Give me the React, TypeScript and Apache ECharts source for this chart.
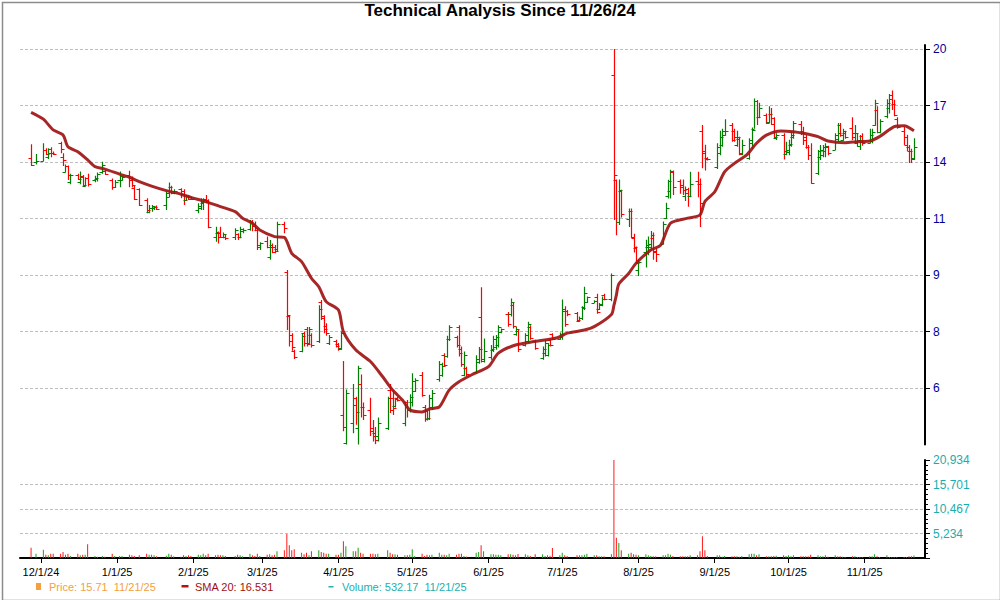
import React, { useEffect, useRef } from 'react';
import * as echarts from 'echarts';

const TITLE = 'Technical Analysis Since 11/26/24';
const FIRST_CATEGORY = '2024-11-23';
const LAST_CATEGORY = '2025-11-25';
const FIRST_TRADE = '2024-11-27';
const HOLIDAYS = ['2024-11-28', '2024-12-25', '2025-01-01', '2025-01-09', '2025-01-20', '2025-02-17',
  '2025-04-18', '2025-05-26', '2025-06-19', '2025-07-04', '2025-09-01'];

// rows: [open, high, low, close, volume] per trading day
const nov2024 = [
  [13.85, 14.52, 13.5, 13.53, 2210], [13.68, 14.05, 13.57, 13.71, 930],
];
const dec2024 = [
  [13.75, 14.57, 13.72, 14.25, 1780], [14.25, 14.33, 14.01, 14.04, 710], [13.93, 14.33, 13.82, 14.09, 570],
  [14.3, 14.38, 13.9, 14.09, 930], [14.12, 14.17, 14.01, 14.06, 930], [14.57, 14.65, 14.09, 14.28, 925],
  [13.93, 14.09, 13.5, 13.77, 1280], [13.25, 13.57, 13.21, 13.52, 712], [13.5, 13.52, 12.88, 13.1, 925],
  [12.81, 13.15, 12.7, 13.1, 427], [13.1, 13.15, 12.88, 12.91, 925], [12.81, 13.25, 12.7, 13.03, 570],
  [13.06, 13.1, 12.6, 12.67, 712], [12.63, 13.0, 12.6, 12.95, 712], [12.95, 13.15, 12.6, 12.7, 2920],
  [12.88, 13.06, 12.78, 12.96, 427], [12.91, 13.21, 12.81, 13.15, 285], [13.21, 13.69, 13.15, 13.55, 427],
  [13.29, 13.32, 13.1, 13.15, 285], [12.88, 12.95, 12.46, 12.57, 925], [12.57, 12.88, 12.54, 12.81, 427],
];
const jan2025 = [
  [12.88, 13.25, 12.57, 13.06, 427], [12.88, 13.06, 12.85, 13.0, 427], [13.1, 13.29, 12.57, 12.88, 712],
  [12.95, 13.03, 12.57, 12.67, 570], [12.53, 12.63, 12.04, 12.07, 427], [12.49, 12.53, 11.8, 11.84, 570],
  [12.04, 12.11, 11.52, 11.65, 925], [11.58, 11.84, 11.52, 11.71, 712], [11.71, 11.84, 11.58, 11.8, 712],
  [11.72, 11.8, 11.65, 11.77, 570], [11.78, 11.82, 11.65, 11.7, 356], [11.84, 12.39, 11.65, 12.18, 500],
  [12.32, 12.77, 12.15, 12.57, 925], [12.57, 12.63, 12.28, 12.43, 712], [12.32, 12.49, 12.28, 12.43, 356],
  [12.49, 12.53, 12.11, 12.28, 285], [12.43, 12.49, 11.84, 12.04, 570], [12.04, 12.25, 12.04, 12.21, 427],
  [12.21, 12.25, 12.04, 12.07, 570], [12.15, 12.18, 12.04, 12.07, 427],
];
const feb2025 = [
  [11.65, 11.91, 11.52, 11.8, 712], [11.71, 12.11, 11.65, 11.97, 570], [11.91, 12.11, 11.65, 12.04, 925],
  [12.07, 12.25, 11.91, 11.97, 570], [12.04, 12.07, 10.95, 10.99, 925], [10.65, 11.01, 10.47, 10.83, 570],
  [10.79, 10.83, 10.41, 10.62, 712], [10.77, 11.01, 10.62, 10.65, 570], [10.62, 10.8, 10.59, 10.74, 570],
  [10.65, 10.74, 10.53, 10.6, 427], [10.62, 10.95, 10.53, 10.89, 427], [10.74, 10.77, 10.53, 10.62, 712],
  [10.65, 11.01, 10.59, 10.91, 570], [10.85, 10.95, 10.77, 10.89, 356], [10.91, 11.26, 10.86, 11.2, 925],
  [11.2, 11.26, 10.84, 11.05, 570], [11.1, 11.2, 10.84, 10.95, 427], [10.89, 10.95, 10.18, 10.35, 925],
  [10.29, 10.45, 10.18, 10.41, 427],
];
const mar2025 = [
  [10.5, 10.65, 10.24, 10.3, 712], [9.95, 10.53, 9.85, 10.3, 783], [10.35, 10.41, 10.07, 10.12, 570],
  [10.3, 10.35, 10.07, 10.15, 712], [10.2, 11.19, 10.12, 11.11, 1424], [11.1, 11.19, 10.77, 10.95, 1640],
  [9.47, 9.52, 7.78, 8.18, 5150], [8.15, 8.18, 7.36, 7.5, 2700], [7.65, 7.7, 7.26, 7.35, 1640],
  [7.25, 7.28, 7.06, 7.1, 1850], [7.25, 7.7, 7.22, 7.62, 1140], [7.7, 7.74, 7.36, 7.45, 783],
  [7.8, 7.86, 7.36, 7.42, 1140], [7.45, 7.86, 7.4, 7.8, 570], [7.65, 7.7, 7.34, 7.4, 1424],
  [7.5, 8.46, 7.45, 8.35, 1640], [8.55, 8.61, 8.05, 8.1, 1282], [8.15, 8.18, 7.7, 7.8, 1139],
  [7.9, 7.96, 7.63, 7.7, 925], [7.45, 7.65, 7.4, 7.6, 925], [7.5, 7.53, 7.34, 7.38, 712],
];
const apr2025 = [
  [7.42, 7.45, 7.26, 7.3, 712], [7.32, 7.74, 7.28, 7.7, 1139], [5.85, 7.01, 5.54, 5.62, 3560],
  [5.32, 6.37, 5.29, 6.3, 2490], [5.7, 6.49, 5.5, 6.05, 1424], [6.2, 6.22, 5.66, 5.9, 1424],
  [5.6, 6.9, 5.29, 6.85, 2210], [6.5, 6.7, 5.8, 6.0, 1139], [6.0, 6.1, 5.75, 5.85, 925],
  [5.95, 6.2, 5.45, 5.55, 925], [5.6, 5.75, 5.35, 5.45, 925], [5.5, 5.62, 5.3, 5.38, 783],
  [5.45, 5.8, 5.35, 5.7, 925], [5.6, 6.22, 5.56, 6.2, 1638], [6.36, 6.49, 5.89, 5.95, 1139],
  [6.2, 6.36, 5.85, 5.98, 783], [6.02, 6.2, 6.0, 6.18, 783], [6.2, 6.22, 6.12, 6.15, 712],
  [5.7, 6.12, 5.63, 6.1, 570], [6.1, 6.15, 5.8, 5.95, 570], [5.95, 6.27, 5.9, 6.22, 712],
];
const may2025 = [
  [6.1, 6.73, 6.02, 6.55, 1850], [6.35, 6.62, 6.32, 6.58, 427], [6.7, 6.76, 6.22, 6.25, 925],
  [6.0, 6.05, 5.72, 5.78, 427], [5.92, 5.95, 5.74, 5.8, 712], [5.8, 6.26, 5.75, 6.2, 570],
  [6.0, 6.36, 5.95, 6.3, 712], [6.6, 7.01, 6.54, 6.95, 1139], [6.7, 6.97, 6.65, 6.9, 712],
  [7.15, 7.2, 6.88, 6.92, 712], [7.12, 7.63, 7.09, 7.55, 570], [7.55, 7.91, 7.5, 7.85, 925],
  [7.6, 7.63, 7.34, 7.4, 712], [7.85, 7.91, 7.12, 7.2, 925], [7.3, 7.36, 6.88, 6.95, 925],
  [6.7, 7.24, 6.66, 7.15, 427], [6.85, 6.88, 6.66, 6.72, 300], [6.75, 7.15, 6.72, 7.05, 1139],
  [7.0, 7.35, 6.95, 7.3, 1282], [8.13, 8.98, 6.98, 7.02, 2700], [7.05, 7.56, 6.98, 7.25, 1424],
];
const jun2025 = [
  [7.1, 7.4, 7.04, 7.3, 783], [7.28, 7.63, 7.23, 7.55, 783], [7.35, 7.65, 7.28, 7.6, 712],
  [7.4, 7.91, 7.34, 7.85, 712], [7.72, 7.82, 7.7, 7.8, 570], [8.2, 8.27, 7.87, 7.95, 783],
  [8.2, 8.65, 8.14, 8.55, 783], [8.45, 8.55, 7.82, 7.88, 712], [7.68, 7.87, 7.63, 7.82, 570],
  [7.75, 7.78, 7.23, 7.3, 850], [7.4, 7.7, 7.36, 7.65, 783], [7.5, 8.0, 7.45, 7.95, 570],
  [7.85, 7.91, 7.53, 7.58, 427], [7.5, 7.53, 7.28, 7.32, 783], [7.08, 7.36, 7.04, 7.3, 783],
  [7.2, 7.53, 7.12, 7.45, 427], [7.15, 7.45, 7.12, 7.4, 570], [7.52, 7.56, 7.36, 7.4, 500],
  [7.68, 7.7, 7.53, 7.55, 2140], [7.56, 7.72, 7.53, 7.68, 570],
];
const jul2025 = [
  [7.6, 8.62, 7.53, 8.3, 1139], [8.35, 8.43, 7.87, 7.95, 570], [8.3, 8.32, 8.15, 8.2, 427],
  [8.25, 8.27, 8.0, 8.05, 570], [8.02, 8.14, 8.0, 8.1, 570], [8.1, 8.43, 8.05, 8.38, 570],
  [8.4, 9.0, 8.32, 8.8, 712], [8.55, 8.71, 8.52, 8.68, 925], [8.53, 8.6, 8.52, 8.58, 570],
  [8.7, 8.79, 8.22, 8.28, 570], [8.35, 8.52, 8.32, 8.48, 356], [8.45, 8.71, 8.43, 8.65, 356],
  [8.75, 8.79, 8.6, 8.65, 356], [8.65, 9.41, 8.57, 9.35, 783], [18.3, 20.0, 11.26, 13.1, 20934],
  [12.87, 12.9, 10.7, 11.2, 4340], [11.2, 12.9, 11.07, 12.46, 3200], [12.4, 12.46, 11.36, 11.5, 1640],
  [11.3, 11.7, 11.0, 11.6, 925], [11.62, 11.7, 10.6, 10.65, 1139], [10.6, 10.75, 10.1, 10.27, 783],
  [10.25, 10.3, 9.74, 9.76, 712],
];
const aug2025 = [
  [9.52, 9.85, 9.33, 9.79, 570], [10.1, 10.54, 9.6, 10.35, 783], [10.3, 10.65, 10.0, 10.4, 570],
  [10.3, 10.85, 10.2, 10.7, 427], [10.6, 10.8, 9.85, 10.1, 356], [10.15, 10.25, 9.78, 10.05, 356],
  [10.4, 11.2, 10.37, 11.1, 570], [11.35, 11.93, 11.3, 11.72, 570], [12.2, 12.89, 12.1, 12.83, 925],
  [12.4, 13.33, 12.1, 13.27, 712], [13.25, 13.3, 12.25, 12.6, 427], [12.85, 12.9, 12.3, 12.6, 356],
  [12.65, 12.9, 12.25, 12.45, 356], [12.2, 12.6, 12.0, 12.35, 356], [12.5, 12.55, 11.77, 12.2, 356],
  [12.2, 13.24, 12.15, 12.72, 570], [12.85, 13.24, 12.15, 12.7, 570], [12.7, 12.95, 11.0, 11.93, 1424],
  [15.2, 15.5, 13.4, 14.2, 4630], [14.1, 14.5, 13.3, 13.8, 1640], [13.85, 13.9, 13.75, 13.8, 427],
];
const sep2025 = [
  [13.45, 14.57, 13.37, 14.4, 570], [14.1, 15.2, 14.0, 14.9, 570], [14.5, 15.3, 14.4, 15.2, 285],
  [15.0, 15.8, 14.95, 15.2, 427], [15.5, 15.6, 14.65, 14.73, 356], [15.2, 15.3, 14.65, 14.9, 356],
  [14.5, 15.2, 14.4, 14.9, 356], [14.8, 14.9, 14.0, 14.06, 285], [14.1, 14.75, 14.0, 14.5, 427],
  [13.85, 14.82, 13.79, 14.73, 783], [14.6, 15.36, 14.3, 15.25, 925], [15.3, 16.93, 15.3, 16.8, 925],
  [16.8, 16.85, 15.5, 15.9, 570], [15.9, 16.7, 15.85, 16.4, 783], [16.0, 16.1, 15.55, 15.6, 356],
  [15.65, 16.5, 15.6, 16.1, 356], [16.1, 16.4, 15.5, 15.55, 356], [15.85, 15.9, 14.82, 14.9, 427],
  [14.85, 15.07, 14.73, 15.0, 500], [15.0, 15.07, 13.8, 14.18, 570], [14.05, 14.65, 14.0, 14.25, 427],
];
const oct2025 = [
  [14.15, 14.75, 14.0, 14.55, 570], [14.5, 15.15, 14.4, 15.0, 356], [14.9, 15.7, 14.8, 15.6, 570],
  [15.55, 15.7, 14.98, 15.07, 356], [15.2, 15.4, 14.49, 14.73, 356], [14.9, 14.98, 14.3, 14.4, 356],
  [14.4, 14.49, 13.77, 14.0, 356], [14.0, 14.57, 12.72, 12.77, 712], [13.2, 14.25, 13.1, 14.2, 570],
  [13.9, 14.49, 13.77, 14.25, 356], [14.0, 14.49, 13.9, 14.4, 356], [14.2, 14.57, 13.9, 14.45, 570],
  [14.4, 14.45, 14.0, 14.1, 285], [14.25, 15.07, 14.25, 14.98, 570], [14.8, 15.6, 14.65, 15.1, 356],
  [15.5, 15.6, 14.9, 15.0, 356], [14.75, 15.3, 14.7, 15.2, 285], [15.1, 15.2, 14.8, 14.9, 214],
  [15.35, 15.9, 14.73, 15.07, 356], [14.9, 15.5, 14.6, 15.1, 356], [14.6, 15.07, 14.4, 14.75, 214],
  [14.45, 14.98, 14.25, 14.65, 214], [14.95, 15.07, 14.45, 14.6, 214],
];
const nov2025 = [
  [14.6, 15.3, 14.57, 15.0, 356], [14.7, 15.3, 14.57, 15.15, 356], [15.5, 16.86, 15.45, 16.7, 783],
  [16.3, 16.5, 15.07, 15.15, 356], [15.15, 15.8, 15.07, 15.7, 214], [15.95, 16.9, 15.85, 16.7, 570],
  [16.4, 17.2, 16.1, 16.9, 214], [17.14, 17.4, 16.3, 16.6, 214], [16.6, 16.86, 15.95, 16.0, 214],
  [15.8, 15.9, 15.3, 15.4, 214], [15.2, 15.4, 14.49, 14.5, 214], [14.9, 15.0, 14.2, 14.22, 214],
  [14.4, 14.49, 13.64, 14.2, 356], [14.2, 14.3, 13.64, 13.8, 356], [13.85, 14.82, 13.77, 14.39, 532],
];
const MONTH_ROWS: [string, number[][]][] = [
  ['2024-11', nov2024], ['2024-12', dec2024], ['2025-01', jan2025], ['2025-02', feb2025],
  ['2025-03', mar2025], ['2025-04', apr2025], ['2025-05', may2025], ['2025-06', jun2025],
  ['2025-07', jul2025], ['2025-08', aug2025], ['2025-09', sep2025], ['2025-10', oct2025],
  ['2025-11', nov2025],
];

const SMA_DATES = ['2024-11-27', '2024-12-02', '2024-12-06', '2024-12-10', '2024-12-12', '2024-12-16',
  '2024-12-20', '2024-12-23', '2024-12-27', '2025-01-02', '2025-01-06', '2025-01-10', '2025-01-15',
  '2025-01-21', '2025-01-27', '2025-01-31', '2025-02-06', '2025-02-12', '2025-02-18', '2025-02-21',
  '2025-02-25', '2025-02-28', '2025-03-06', '2025-03-10', '2025-03-13', '2025-03-17', '2025-03-21',
  '2025-03-24', '2025-03-27', '2025-04-01', '2025-04-03', '2025-04-08', '2025-04-14', '2025-04-19',
  '2025-04-23', '2025-04-27', '2025-04-30', '2025-05-05', '2025-05-08', '2025-05-12', '2025-05-16',
  '2025-05-20', '2025-05-25', '2025-06-01', '2025-06-05', '2025-06-12', '2025-06-19', '2025-06-29',
  '2025-07-03', '2025-07-10', '2025-07-14', '2025-07-21', '2025-07-22', '2025-07-23', '2025-07-24',
  '2025-07-28', '2025-07-31', '2025-08-06', '2025-08-10', '2025-08-14', '2025-08-21', '2025-08-26',
  '2025-08-28', '2025-09-01', '2025-09-05', '2025-09-09', '2025-09-14', '2025-09-18', '2025-09-22',
  '2025-09-28', '2025-10-03', '2025-10-07', '2025-10-13', '2025-10-17', '2025-10-24', '2025-10-29',
  '2025-11-03', '2025-11-07', '2025-11-13', '2025-11-17', '2025-11-21'];
const SMA_VALUES = [16.17, 15.8, 15.24, 14.98, 14.4, 14.16,
  13.78, 13.47, 13.36, 13.14, 13.0, 12.81, 12.62,
  12.43, 12.28, 12.15, 11.98, 11.78, 11.58, 11.33,
  11.14, 10.89, 10.65, 10.62, 10.07, 9.79, 9.26,
  9.0, 8.56, 8.32, 7.74, 7.28, 7.0, 6.65,
  6.36, 6.15, 5.95, 5.91, 5.97, 6.01, 6.36,
  6.54, 6.69, 6.88, 7.2, 7.4, 7.48, 7.58,
  7.7, 7.78, 7.87, 8.2, 8.45, 8.75, 9.08,
  9.41, 9.74, 10.18, 10.35, 11.14, 11.33, 11.45,
  11.98, 12.38, 13.24, 13.62, 14.01, 14.57, 14.98,
  15.19, 15.15, 15.07, 14.9, 14.68, 14.6, 14.65,
  14.68, 14.9, 15.41, 15.46, 15.2];

// price axis: gridlines at a constant ratio, labelled with rounded values
const PRICE_TICK_RATIO = 1.209;
const PRICE_TOP_TICK = 20;
const PRICE_TICK_STEPS = 7;
const VOLUME_MAX = 20934;
const VOLUME_STEP = 5233.5;

const LEGEND_PRICE = 'Price: 15.71  11/21/25';
const LEGEND_SMA = 'SMA 20: 16.531';
const LEGEND_VOLUME = 'Volume: 532.17  11/21/25';

const UP = '#008000';
const DOWN = '#ff0000';
const VOL_UP = '#1f9f1f';
const VOL_DOWN = '#ff1a1a';

function ymd(d: Date) {
  return d.toISOString().slice(0, 10);
}

function buildCategories() {
  const out: string[] = [];
  const d = new Date(FIRST_CATEGORY + 'T00:00:00Z');
  while (ymd(d) <= LAST_CATEGORY) {
    out.push(ymd(d));
    d.setUTCDate(d.getUTCDate() + 1);
  }
  return out;
}

export default function App() {
  const ref = useRef<HTMLDivElement>(null);

  useEffect(() => {
    if (!ref.current) return;
    const chart = echarts.init(ref.current, null, { renderer: 'svg' });

    const categories = buildCategories();
    const catIndex: Record<string, number> = {};
    categories.forEach((c, i) => (catIndex[c] = i));

    const base = PRICE_TOP_TICK / Math.pow(PRICE_TICK_RATIO, PRICE_TICK_STEPS);
    const lnR = Math.log(PRICE_TICK_RATIO);
    const tp = (p: number) => Math.log(p / base) / lnR;

    const bars: number[][] = [];
    const vols: any[] = [];
    MONTH_ROWS.forEach(([month, rows]) => {
      const days = categories.filter((c) => {
        if (!c.startsWith(month) || c < FIRST_TRADE) return false;
        const wd = new Date(c + 'T00:00:00Z').getUTCDay();
        return wd !== 0 && wd !== 6 && HOLIDAYS.indexOf(c) < 0;
      });
      rows.forEach((r, i) => {
        if (!days[i]) return;
        const idx = catIndex[days[i]];
        const [o, h, l, c, v] = r;
        bars.push([idx, tp(o), tp(h), tp(l), tp(c)]);
        vols.push({ value: [idx, v], itemStyle: { color: c >= o ? VOL_UP : VOL_DOWN } });
      });
    });

    const sma = SMA_DATES.map((d, i) => [catIndex[d], tp(SMA_VALUES[i])]);

    const labelInterval = (_i: number, v: string) => v.endsWith('-01');
    const fmtDate = (v: string) => {
      const [y, m, d] = v.split('-');
      return `${+m}/${+d}/${y.slice(2)}`;
    };

    const priceMax = (444.5 - 45) / 56.5;

    chart.setOption({
      animation: false,
      backgroundColor: '#ffffff',
      title: {
        text: TITLE,
        left: 'center',
        top: -3,
        textStyle: { fontSize: 17, fontWeight: 'bold', fontFamily: 'Liberation Sans', color: '#000' },
      },
      grid: [
        { left: 20, right: 75, top: 45, height: 399.5 },
        { left: 20, right: 75, top: 460, height: 98 },
      ],
      xAxis: [
        { type: 'category', gridIndex: 0, data: categories, boundaryGap: true, show: false },
        {
          type: 'category', gridIndex: 1, data: categories, boundaryGap: true,
          axisLine: { show: true, lineStyle: { color: '#000', width: 2 } },
          axisTick: { show: true, alignWithLabel: true, interval: labelInterval, length: 5, lineStyle: { color: '#000' } },
          axisLabel: {
            interval: labelInterval, formatter: fmtDate, color: '#000', fontSize: 11,
            fontFamily: 'Liberation Sans', margin: 8,
          },
          splitLine: { show: false },
        },
      ],
      yAxis: [
        {
          type: 'value', gridIndex: 0, position: 'right', min: 0, max: priceMax, interval: 1,
          axisLine: { show: true, lineStyle: { color: '#000', width: 2 } },
          axisTick: { show: true, length: 5, lineStyle: { color: '#000' } },
          axisLabel: {
            color: '#000099', fontSize: 12, fontFamily: 'Liberation Sans', margin: 8,
            showMinLabel: false, showMaxLabel: false,
            formatter: (v: number) => String(Math.round(base * Math.pow(PRICE_TICK_RATIO, v))),
          },
          splitLine: {
            show: true, showMinLine: false, showMaxLine: false,
            lineStyle: { type: [3, 2], color: '#bdbdbd', width: 1 },
          },
        },
        {
          type: 'value', gridIndex: 1, position: 'right', min: 0, max: VOLUME_MAX, interval: VOLUME_STEP,
          axisLine: { show: true, lineStyle: { color: '#000', width: 2 } },
          axisTick: { show: true, length: 5, lineStyle: { color: '#000' } },
          minorTick: { show: true, splitNumber: 5, length: 3, lineStyle: { color: '#000' } },
          axisLabel: {
            color: '#1aadad', fontSize: 12, fontFamily: 'Liberation Sans', margin: 8, showMinLabel: false,
            formatter: (v: number) => Math.round(v).toLocaleString('en-US'),
          },
          splitLine: {
            show: true, showMinLine: false, showMaxLine: false,
            lineStyle: { type: [3, 2], color: '#bdbdbd', width: 1 },
          },
        },
      ],
      series: [
        {
          type: 'custom',
          xAxisIndex: 0,
          yAxisIndex: 0,
          data: bars,
          encode: { x: 0, y: [1, 2, 3, 4] },
          clip: true,
          renderItem: (_params: any, api: any) => {
            const x = api.value(0);
            const o = api.coord([x, api.value(1)]);
            const h = api.coord([x, api.value(2)]);
            const l = api.coord([x, api.value(3)]);
            const c = api.coord([x, api.value(4)]);
            const color = api.value(4) >= api.value(1) ? UP : DOWN;
            const px = Math.round(o[0]) + 0.5;
            const oy = Math.round(o[1]) + 0.5;
            const cy = Math.round(c[1]) + 0.5;
            const st = { stroke: color, lineWidth: 1.2 };
            return {
              type: 'group',
              children: [
                { type: 'line', shape: { x1: px, y1: h[1], x2: px, y2: l[1] }, style: st },
                { type: 'line', shape: { x1: px - 3, y1: oy, x2: px, y2: oy }, style: st },
                { type: 'line', shape: { x1: px, y1: cy, x2: px + 3, y2: cy }, style: st },
              ],
            };
          },
        },
        {
          type: 'line',
          xAxisIndex: 0,
          yAxisIndex: 0,
          data: sma,
          showSymbol: false,
          smooth: 0.25,
          lineStyle: { color: '#a01515', width: 3, opacity: 0.92 },
          z: 3,
        },
        {
          type: 'bar',
          xAxisIndex: 1,
          yAxisIndex: 1,
          data: vols,
          barWidth: 1,
          barGap: '0%',
        },
      ],
      graphic: [
        {
          type: 'rect', left: 0, top: 0, silent: true,
          shape: { x: 0.5, y: 0.5, width: 998, height: 598 },
          style: { fill: 'none', stroke: '#8c8c8c', lineWidth: 1.5 },
        },
        { type: 'rect', shape: { x: 36, y: 583, width: 5, height: 7 }, style: { fill: '#f4a040' } },
        {
          type: 'text', x: 49, y: 587,
          style: { text: LEGEND_PRICE, fill: '#f4a040', fontSize: 11, fontFamily: 'Liberation Sans', verticalAlign: 'middle' },
        },
        { type: 'rect', shape: { x: 181.5, y: 585, width: 7, height: 2.5 }, style: { fill: '#b01414' } },
        {
          type: 'text', x: 195, y: 587,
          style: { text: LEGEND_SMA, fill: '#a01010', fontSize: 11, fontFamily: 'Liberation Sans', verticalAlign: 'middle' },
        },
        { type: 'rect', shape: { x: 328.5, y: 586, width: 5, height: 1.5 }, style: { fill: '#20b0b0' } },
        {
          type: 'text', x: 342, y: 587,
          style: { text: LEGEND_VOLUME, fill: '#20b0b0', fontSize: 11, fontFamily: 'Liberation Sans', verticalAlign: 'middle' },
        },
      ],
    });

    return () => chart.dispose();
  }, []);

  return (
    <div
      ref={ref}
      style={{ position: 'absolute', left: 0, top: 0, width: 1000, height: 600, background: '#fff' }}
    />
  );
}
